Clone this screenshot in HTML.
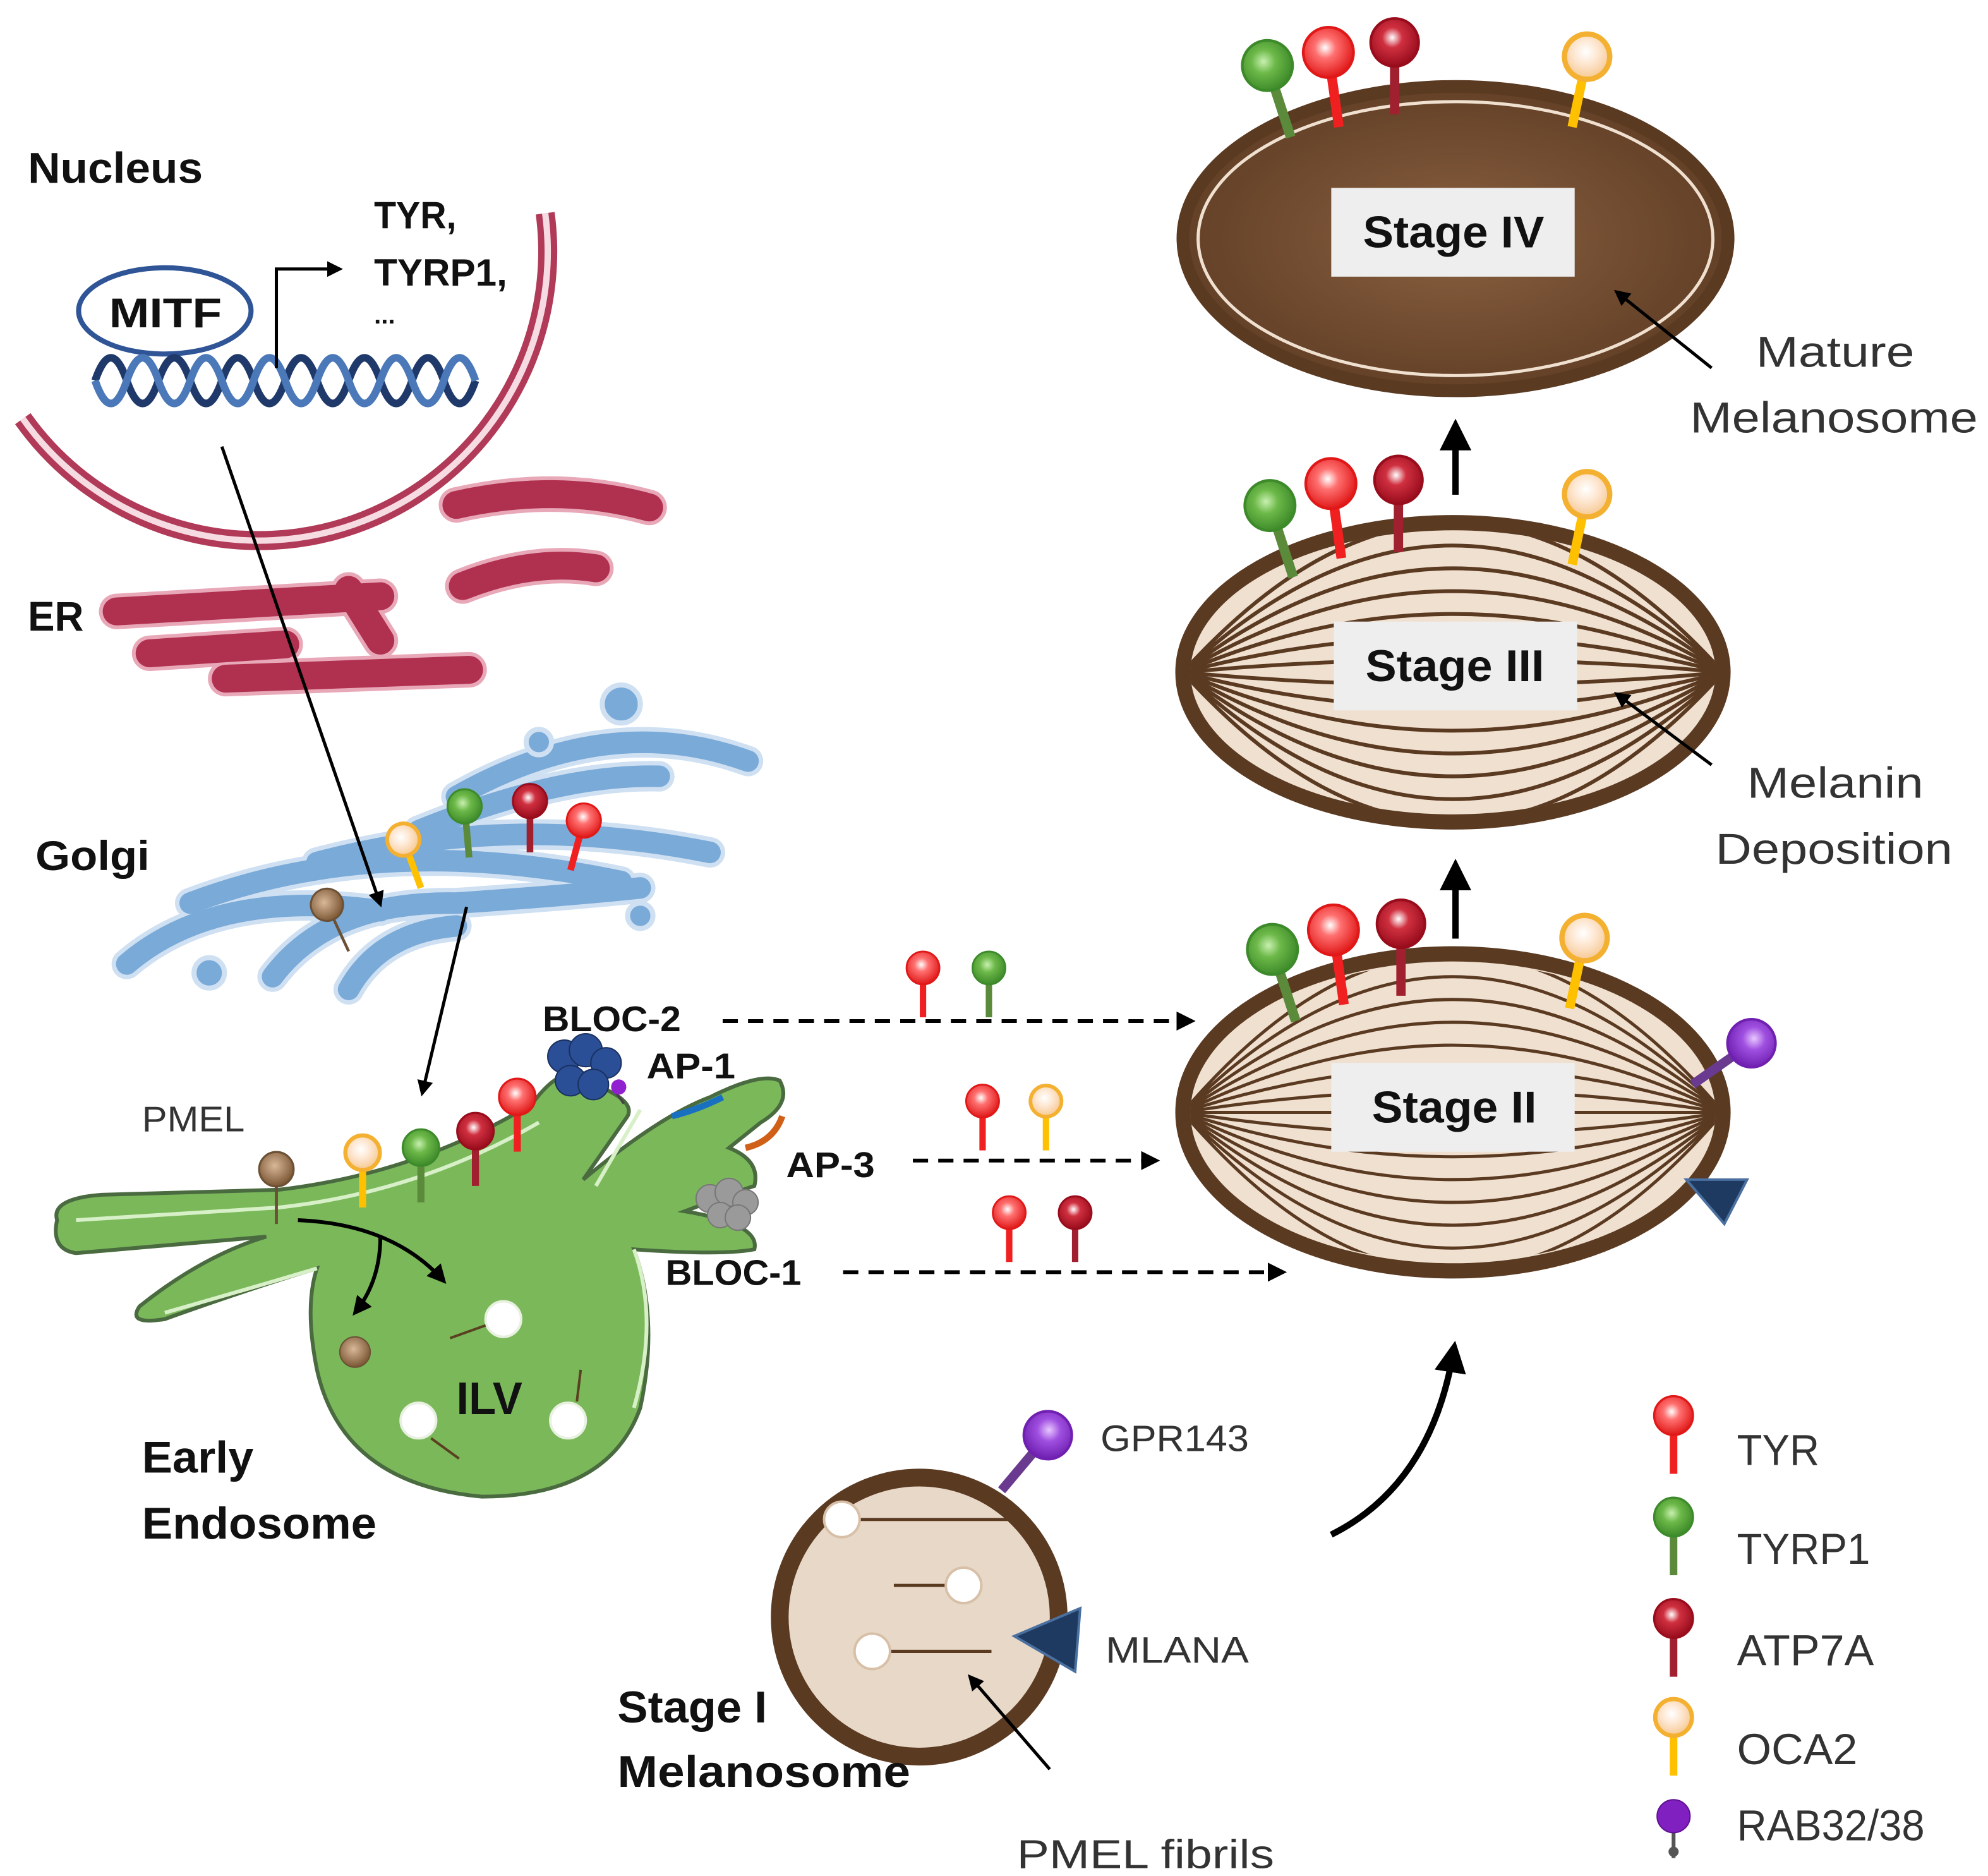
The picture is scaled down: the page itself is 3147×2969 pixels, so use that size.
<!DOCTYPE html>
<html><head><meta charset="utf-8"><style>
html,body{margin:0;padding:0;background:#fff;}
svg{display:block;}
text{font-family:"Liberation Sans",sans-serif;}
.b{font-weight:bold;fill:#111;}
.n{fill:#333;}
</style></head><body>
<svg width="3147" height="2969" viewBox="0 0 1568 1479" xmlns="http://www.w3.org/2000/svg">
<defs>
<marker id="ah" viewBox="0 0 10 10" refX="8" refY="5" markerWidth="5" markerHeight="5" orient="auto-start-reverse"><path d="M0,0 L10,5 L0,10 z" fill="#000"/></marker>
<radialGradient id="gR" cx="0.45" cy="0.4" r="0.6"><stop offset="0" stop-color="#fff"/><stop offset="0.35" stop-color="#ff7070"/><stop offset="1" stop-color="#e01818"/></radialGradient>
<radialGradient id="gG" cx="0.45" cy="0.4" r="0.6"><stop offset="0" stop-color="#c8f0b0"/><stop offset="0.4" stop-color="#6cb848"/><stop offset="1" stop-color="#3d8a2a"/></radialGradient>
<radialGradient id="gD" cx="0.45" cy="0.4" r="0.6"><stop offset="0" stop-color="#fff"/><stop offset="0.35" stop-color="#d03040"/><stop offset="1" stop-color="#980c1c"/></radialGradient>
<radialGradient id="gY" cx="0.45" cy="0.4" r="0.6"><stop offset="0" stop-color="#fff"/><stop offset="0.5" stop-color="#fde4cc"/><stop offset="1" stop-color="#f6c890"/></radialGradient>
<radialGradient id="gB" cx="0.45" cy="0.4" r="0.6"><stop offset="0" stop-color="#d8b898"/><stop offset="1" stop-color="#7a5533"/></radialGradient>
<radialGradient id="gP" cx="0.45" cy="0.4" r="0.6"><stop offset="0" stop-color="#e8c8ff"/><stop offset="0.4" stop-color="#a050e0"/><stop offset="1" stop-color="#7020b0"/></radialGradient>
<radialGradient id="gS4" cx="0.5" cy="0.5" r="0.6"><stop offset="0" stop-color="#8a6040"/><stop offset="1" stop-color="#5b3a22"/></radialGradient>
<g id="tyr"><line x1="0" y1="0" x2="0" y2="-38" stroke="#f02020" stroke-width="7"/><circle cx="0" cy="-54" r="18" fill="url(#gR)" stroke="#e01818" stroke-width="2"/></g>
<g id="tyrp"><line x1="0" y1="0" x2="0" y2="-38" stroke="#5a8a3a" stroke-width="7"/><circle cx="0" cy="-54" r="18" fill="url(#gG)" stroke="#3d8a2a" stroke-width="2"/></g>
<g id="atp"><line x1="0" y1="0" x2="0" y2="-38" stroke="#a02030" stroke-width="7"/><circle cx="0" cy="-54" r="18" fill="url(#gD)" stroke="#980c1c" stroke-width="2"/></g>
<g id="oca"><line x1="0" y1="0" x2="0" y2="-38" stroke="#ffc000" stroke-width="7"/><circle cx="0" cy="-54" r="17" fill="url(#gY)" stroke="#f4b030" stroke-width="4"/></g>
<g id="pmel"><line x1="0" y1="0" x2="0" y2="-38" stroke="#6b5035" stroke-width="3"/><circle cx="0" cy="-54" r="17" fill="url(#gB)" stroke="#6b5035" stroke-width="2"/></g>
<g id="gpr"><line x1="0" y1="0" x2="0" y2="-38" stroke="#6a3a90" stroke-width="7"/><circle cx="0" cy="-54" r="18" fill="url(#gP)" stroke="#7020b0" stroke-width="2"/></g>
<clipPath id="c3"><ellipse cx="1146" cy="530" rx="207" ry="112"/></clipPath>
<clipPath id="c2"><ellipse cx="1146" cy="877" rx="207" ry="118"/></clipPath>
</defs>

<!-- Nucleus -->
<text x="22" y="144" class="b" font-size="34" textLength="138" lengthAdjust="spacingAndGlyphs">Nucleus</text>
<path d="M430,168 A228,228 0 0 1 18,330" fill="none" stroke="#b03a58" stroke-width="15"/>
<path d="M430,168 A228,228 0 0 1 18,330" fill="none" stroke="#f6dce2" stroke-width="5"/>
<ellipse cx="130" cy="245" rx="68" ry="34" fill="#fff" stroke="#2f5597" stroke-width="4"/>
<text x="86" y="258" class="b" font-size="33" textLength="89" lengthAdjust="spacingAndGlyphs">MITF</text>
<path d="M75,300 q12.5,-36 25,0 t25,0 t25,0 t25,0 t25,0 t25,0 t25,0 t25,0 t25,0 t25,0 t25,0 t25,0" fill="none" stroke="#1f3a6a" stroke-width="6"/>
<path d="M75,300 q12.5,36 25,0 t25,0 t25,0 t25,0 t25,0 t25,0 t25,0 t25,0 t25,0 t25,0 t25,0 t25,0" fill="none" stroke="#4a78b8" stroke-width="6"/>
<path d="M218,290 L218,212 L268,212" fill="none" stroke="#000" stroke-width="2.5" marker-end="url(#ah)"/>
<text x="295" y="180" class="b" font-size="30" textLength="65" lengthAdjust="spacingAndGlyphs">TYR,</text>
<text x="295" y="225" class="b" font-size="30" textLength="105" lengthAdjust="spacingAndGlyphs">TYRP1,</text>
<text x="295" y="255" class="b" font-size="20">...</text>

<!-- ER -->
<text x="22" y="497" class="b" font-size="33" textLength="44" lengthAdjust="spacingAndGlyphs">ER</text>
<g stroke-linecap="round" fill="none">
<g stroke="#e8a8b8" stroke-width="28">
<path d="M360,398 Q440,380 512,400"/><path d="M365,462 Q420,440 470,448"/>
<path d="M92,482 L300,470"/><path d="M275,465 L300,505"/><path d="M118,515 L225,508"/><path d="M178,535 L370,528"/>
</g>
<g stroke="#b0304f" stroke-width="22">
<path d="M360,398 Q440,380 512,400"/><path d="M365,462 Q420,440 470,448"/>
<path d="M92,482 L300,470"/><path d="M275,465 L300,505"/><path d="M118,515 L225,508"/><path d="M178,535 L370,528"/>
</g>
</g>

<!-- Golgi -->
<text x="28" y="686" class="b" font-size="33" textLength="90" lengthAdjust="spacingAndGlyphs">Golgi</text>
<g stroke-linecap="round" fill="none">
<g stroke="#cfe0f2" stroke-width="24">
<path d="M360,628 Q480,560 590,600"/><path d="M330,655 Q440,610 520,612"/>
<path d="M250,680 Q400,640 560,672"/><path d="M150,712 Q300,655 490,695"/>
<path d="M100,760 Q170,700 300,718"/><path d="M215,770 Q260,710 360,712 Q460,705 505,700"/>
<path d="M275,780 Q300,735 360,730"/>
</g>
<g stroke="#7aaad8" stroke-width="17">
<path d="M360,628 Q480,560 590,600"/><path d="M330,655 Q440,610 520,612"/>
<path d="M250,680 Q400,640 560,672"/><path d="M150,712 Q300,655 490,695"/>
<path d="M100,760 Q170,700 300,718"/><path d="M215,770 Q260,710 360,712 Q460,705 505,700"/>
<path d="M275,780 Q300,735 360,730"/>
</g>
</g>
<g fill="#7aaad8" stroke="#cfe0f2" stroke-width="4">
<circle cx="165" cy="767" r="12"/><circle cx="505" cy="722" r="10"/><circle cx="490" cy="555" r="15"/><circle cx="425" cy="585" r="10"/>
</g>
<use href="#pmel" transform="translate(275,750) rotate(-25) scale(0.75)"/>
<use href="#oca" transform="translate(332,700) rotate(-20) scale(0.75)"/>
<use href="#tyrp" transform="translate(370,676) rotate(-5) scale(0.75)"/>
<use href="#atp" transform="translate(418,672) scale(0.75)"/>
<use href="#tyr" transform="translate(450,686) rotate(15) scale(0.75)"/>

<line x1="175" y1="352" x2="300" y2="713" stroke="#000" stroke-width="2.5" marker-end="url(#ah)"/>
<line x1="368" y1="715" x2="333" y2="862" stroke="#000" stroke-width="2.5" marker-end="url(#ah)"/>

<!-- Endosome -->
<path d="M45,962 Q40,945 80,942 L220,938 Q330,925 420,870 Q445,835 470,850 L480,860 Q500,870 495,880 L460,930 Q520,880 560,865 Q600,845 615,852 Q625,870 600,885 L575,905 Q600,915 595,935 L580,940 L540,955 Q600,965 595,985 Q570,990 500,985 Q520,1040 505,1110 Q480,1180 380,1180 Q270,1170 250,1080 Q240,1030 250,1000 Q200,1015 130,1040 Q100,1045 110,1030 Q160,990 210,975 L60,988 Q40,985 45,962 Z" fill="#7ab85a" stroke="#4a6a40" stroke-width="3"/>
<path d="M60,962 L220,952 Q330,940 425,885 M505,875 L470,935 M250,1000 Q200,1015 130,1035 M500,985 Q520,1040 500,1110" fill="none" stroke="#d8f0c8" stroke-width="3"/>
<use href="#pmel" transform="translate(218,965) scale(0.8)"/>
<use href="#oca" transform="translate(286,952) scale(0.8)"/>
<use href="#tyrp" transform="translate(332,948) scale(0.8)"/>
<use href="#atp" transform="translate(375,935) scale(0.8)"/>
<use href="#tyr" transform="translate(408,908) scale(0.8)"/>
<g fill="#2a4f96" stroke="#1a3060" stroke-width="1"><circle cx="445" cy="833" r="13"/><circle cx="462" cy="828" r="13"/><circle cx="478" cy="838" r="12"/><circle cx="450" cy="852" r="12"/><circle cx="468" cy="855" r="12"/></g>
<line x1="485" y1="860" x2="492" y2="870" stroke="#444" stroke-width="2"/><circle cx="488" cy="857" r="6" fill="#9020d0"/>
<path d="M530,880 Q550,875 570,865" stroke="#1a70c0" stroke-width="5" fill="none"/>
<path d="M588,905 Q610,900 617,880" stroke="#d06018" stroke-width="5" fill="none"/>
<g fill="#9a9a9a" stroke="#777"><circle cx="560" cy="945" r="11"/><circle cx="575" cy="940" r="11"/><circle cx="588" cy="948" r="10"/><circle cx="568" cy="958" r="10"/><circle cx="582" cy="960" r="10"/></g>
<path d="M235,962 Q310,965 350,1010" fill="none" stroke="#000" stroke-width="3" marker-end="url(#ah)"/>
<path d="M300,975 Q300,1010 280,1035" fill="none" stroke="#000" stroke-width="3" marker-end="url(#ah)"/>
<circle cx="280" cy="1066" r="12" fill="url(#gB)" stroke="#6b5035"/>
<g fill="#fff" stroke="#e8f0e0" stroke-width="2"><circle cx="397" cy="1040" r="14"/><circle cx="330" cy="1120" r="14"/><circle cx="448" cy="1120" r="14"/></g>
<g stroke="#5a4020" stroke-width="2"><line x1="355" y1="1055" x2="383" y2="1045"/><line x1="340" y1="1134" x2="362" y2="1150"/><line x1="455" y1="1105" x2="458" y2="1080"/></g>
<text x="360" y="1115" class="b" font-size="36" textLength="52" lengthAdjust="spacingAndGlyphs">ILV</text>
<text x="112" y="892" class="n" font-size="28" textLength="81" lengthAdjust="spacingAndGlyphs">PMEL</text>
<text x="428" y="813" class="b" font-size="28" textLength="109" lengthAdjust="spacingAndGlyphs">BLOC-2</text>
<text x="510" y="850" class="b" font-size="28" textLength="70" lengthAdjust="spacingAndGlyphs">AP-1</text>
<text x="620" y="928" class="b" font-size="28" textLength="70" lengthAdjust="spacingAndGlyphs">AP-3</text>
<text x="525" y="1013" class="b" font-size="28" textLength="107" lengthAdjust="spacingAndGlyphs">BLOC-1</text>
<text x="112" y="1161" class="b" font-size="35" textLength="88" lengthAdjust="spacingAndGlyphs">Early</text>
<text x="112" y="1213" class="b" font-size="35" textLength="185" lengthAdjust="spacingAndGlyphs">Endosome</text>

<!-- dashed arrows -->
<g stroke="#000" stroke-width="3" stroke-dasharray="12,8" fill="none">
<line x1="570" y1="805" x2="940" y2="805" marker-end="url(#ah)"/>
<line x1="720" y1="915" x2="912" y2="915" marker-end="url(#ah)"/>
<line x1="665" y1="1003" x2="1012" y2="1003" marker-end="url(#ah)"/>
</g>
<use href="#tyr" transform="translate(728,802) scale(0.72)"/>
<use href="#tyrp" transform="translate(780,802) scale(0.72)"/>
<use href="#tyr" transform="translate(775,907) scale(0.72)"/>
<use href="#oca" transform="translate(825,907) scale(0.72)"/>
<use href="#tyr" transform="translate(796,995) scale(0.72)"/>
<use href="#atp" transform="translate(848,995) scale(0.72)"/>

<!-- Stage IV -->
<ellipse cx="1148" cy="188" rx="215" ry="120" fill="url(#gS4)" stroke="#5b3a22" stroke-width="10"/>
<ellipse cx="1148" cy="188" rx="203" ry="108" fill="none" stroke="#f0e0d0" stroke-width="2.5"/>
<rect x="1050" y="148" width="192" height="70" fill="#eeeeee"/>
<text x="1075" y="195" class="b" font-size="35" textLength="143" lengthAdjust="spacingAndGlyphs">Stage IV</text>
<use href="#tyrp" transform="translate(1018,108) rotate(-18) scale(1.1)"/>
<use href="#tyr" transform="translate(1056,100) rotate(-8) scale(1.1)"/>
<use href="#atp" transform="translate(1100,90) scale(1.05)"/>
<use href="#oca" transform="translate(1240,100) rotate(12) scale(1.05)"/>
<line x1="1350" y1="290" x2="1275" y2="230" stroke="#000" stroke-width="2.5" marker-end="url(#ah)"/>
<text x="1385" y="289" class="n" font-size="34" textLength="125" lengthAdjust="spacingAndGlyphs">Mature</text>
<text x="1333" y="341" class="n" font-size="34" textLength="227" lengthAdjust="spacingAndGlyphs">Melanosome</text>
<line x1="1148" y1="390" x2="1148" y2="335" stroke="#000" stroke-width="5" marker-end="url(#ah)"/>

<!-- Stage III -->
<ellipse cx="1146" cy="530" rx="213" ry="118" fill="#f0e0d0" stroke="#5b3a22" stroke-width="12"/>
<g clip-path="url(#c3)" fill="none" stroke="#5b3a22" stroke-width="3">
<path d="M933,530 Q1146,294 1359,530"/><path d="M933,530 Q1146,330 1359,530"/><path d="M933,530 Q1146,366 1359,530"/><path d="M933,530 Q1146,402 1359,530"/><path d="M933,530 Q1146,438 1359,530"/><path d="M933,530 Q1146,474 1359,530"/><path d="M933,530 Q1146,510 1359,530"/><path d="M933,530 Q1146,550 1359,530"/><path d="M933,530 Q1146,586 1359,530"/><path d="M933,530 Q1146,622 1359,530"/><path d="M933,530 Q1146,658 1359,530"/><path d="M933,530 Q1146,694 1359,530"/><path d="M933,530 Q1146,730 1359,530"/><path d="M933,530 Q1146,766 1359,530"/>
</g>
<rect x="1052" y="490" width="192" height="70" fill="#eeeeee"/>
<text x="1077" y="537" class="b" font-size="35" textLength="141" lengthAdjust="spacingAndGlyphs">Stage III</text>
<use href="#tyrp" transform="translate(1020,455) rotate(-18) scale(1.1)"/>
<use href="#tyr" transform="translate(1058,440) rotate(-8) scale(1.1)"/>
<use href="#atp" transform="translate(1103,435) scale(1.05)"/>
<use href="#oca" transform="translate(1240,445) rotate(12) scale(1.05)"/>
<line x1="1350" y1="603" x2="1275" y2="547" stroke="#000" stroke-width="2.5" marker-end="url(#ah)"/>
<text x="1378" y="629" class="n" font-size="34" textLength="139" lengthAdjust="spacingAndGlyphs">Melanin</text>
<text x="1353" y="681" class="n" font-size="34" textLength="187" lengthAdjust="spacingAndGlyphs">Deposition</text>
<line x1="1148" y1="740" x2="1148" y2="682" stroke="#000" stroke-width="5" marker-end="url(#ah)"/>

<!-- Stage II -->
<ellipse cx="1146" cy="877" rx="213" ry="125" fill="#f0e0d0" stroke="#5b3a22" stroke-width="12"/>
<g clip-path="url(#c2)" fill="none" stroke="#5b3a22" stroke-width="2.5">
<path d="M933,877 Q1146,627 1359,877"/><path d="M933,877 Q1146,663 1359,877"/><path d="M933,877 Q1146,699 1359,877"/><path d="M933,877 Q1146,735 1359,877"/><path d="M933,877 Q1146,771 1359,877"/><path d="M933,877 Q1146,807 1359,877"/><path d="M933,877 Q1146,843 1359,877"/><path d="M933,877 Q1146,877 1359,877"/><path d="M933,877 Q1146,911 1359,877"/><path d="M933,877 Q1146,947 1359,877"/><path d="M933,877 Q1146,983 1359,877"/><path d="M933,877 Q1146,1019 1359,877"/><path d="M933,877 Q1146,1055 1359,877"/><path d="M933,877 Q1146,1091 1359,877"/><path d="M933,877 Q1146,1127 1359,877"/>
</g>
<rect x="1050" y="838" width="192" height="70" fill="#eeeeee"/>
<text x="1082" y="885" class="b" font-size="35" textLength="130" lengthAdjust="spacingAndGlyphs">Stage II</text>
<use href="#tyrp" transform="translate(1022,805) rotate(-18) scale(1.1)"/>
<use href="#tyr" transform="translate(1060,792) rotate(-8) scale(1.1)"/>
<use href="#atp" transform="translate(1105,785) scale(1.05)"/>
<use href="#oca" transform="translate(1238,795) rotate(12) scale(1.05)"/>
<use href="#gpr" transform="translate(1335,855) rotate(55) scale(1.05)"/>
<path d="M1330,930 L1378,930 L1360,965 Z" fill="#1f3a60" stroke="#4a70a0" stroke-width="2"/>

<path d="M1050,1210 Q1130,1170 1147,1062" fill="none" stroke="#000" stroke-width="5" marker-end="url(#ah)"/>

<!-- Stage I -->
<circle cx="725" cy="1275" r="110" fill="#e8d8c8" stroke="#5b3a22" stroke-width="14"/>
<g stroke="#5b3a22" stroke-width="2.5"><line x1="678" y1="1198" x2="795" y2="1198"/><line x1="705" y1="1250" x2="748" y2="1250"/><line x1="701" y1="1302" x2="782" y2="1302"/></g>
<g fill="#fff" stroke="#d8c0a8" stroke-width="2"><circle cx="664" cy="1198" r="14"/><circle cx="760" cy="1250" r="14"/><circle cx="688" cy="1302" r="14"/></g>
<use href="#gpr" transform="translate(790,1175) rotate(40) scale(1.05)"/>
<path d="M800,1290 L852,1268 L848,1318 Z" fill="#1f3a60" stroke="#4a70a0" stroke-width="2"/>
<line x1="828" y1="1395" x2="765" y2="1322" stroke="#000" stroke-width="2.5" marker-end="url(#ah)"/>
<text x="868" y="1144" class="n" font-size="29" textLength="117" lengthAdjust="spacingAndGlyphs">GPR143</text>
<text x="872" y="1311" class="n" font-size="29" textLength="113" lengthAdjust="spacingAndGlyphs">MLANA</text>
<text x="802" y="1473" class="n" font-size="32" textLength="203" lengthAdjust="spacingAndGlyphs">PMEL fibrils</text>
<text x="487" y="1358" class="b" font-size="35" textLength="118" lengthAdjust="spacingAndGlyphs">Stage I</text>
<text x="487" y="1409" class="b" font-size="35" textLength="231" lengthAdjust="spacingAndGlyphs">Melanosome</text>

<!-- Legend -->
<use href="#tyr" transform="translate(1320,1162) scale(0.85)"/>
<use href="#tyrp" transform="translate(1320,1242) scale(0.85)"/>
<use href="#atp" transform="translate(1320,1322) scale(0.85)"/>
<use href="#oca" transform="translate(1320,1400) scale(0.85)"/>
<line x1="1320" y1="1440" x2="1320" y2="1465" stroke="#555" stroke-width="3"/><circle cx="1320" cy="1432" r="13" fill="#8020c0" stroke="#601090"/><circle cx="1320" cy="1460" r="4" fill="#555"/>
<g class="n" font-size="34">
<text x="1370" y="1155" textLength="65" lengthAdjust="spacingAndGlyphs">TYR</text>
<text x="1370" y="1233" textLength="105" lengthAdjust="spacingAndGlyphs">TYRP1</text>
<text x="1370" y="1313" textLength="108" lengthAdjust="spacingAndGlyphs">ATP7A</text>
<text x="1370" y="1391" textLength="95" lengthAdjust="spacingAndGlyphs">OCA2</text>
<text x="1370" y="1451" textLength="148" lengthAdjust="spacingAndGlyphs">RAB32/38</text>
</g>
</svg>
</body></html>
